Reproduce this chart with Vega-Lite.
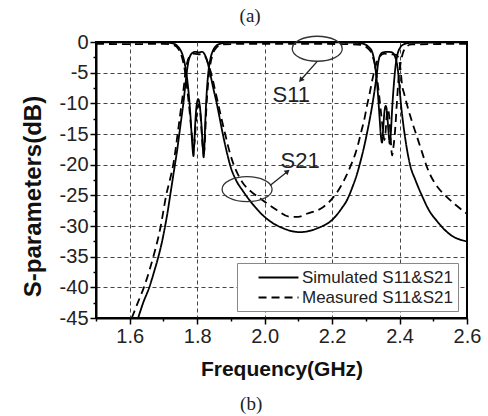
{
  "$schema": "https://vega.github.io/schema/vega-lite/v6.json",
  "width": 371,
  "height": 276,
  "autosize": {"type": "none"},
  "padding": {"left": 96, "top": 42, "right": 21, "bottom": 98},
  "background": "white",
  "config": {"view": {"stroke": "black", "strokeWidth": 2}, "font": "Liberation Sans"},
  "datasets": {
    "curves": [
      {"series": "sim21", "type": "Simulated S11&S21", "freq": 1.625, "db": -45},
      {"series": "sim21", "type": "Simulated S11&S21", "freq": 1.640, "db": -42.5},
      {"series": "sim21", "type": "Simulated S11&S21", "freq": 1.658, "db": -40},
      {"series": "sim21", "type": "Simulated S11&S21", "freq": 1.672, "db": -37.5},
      {"series": "sim21", "type": "Simulated S11&S21", "freq": 1.685, "db": -35},
      {"series": "sim21", "type": "Simulated S11&S21", "freq": 1.696, "db": -32.5},
      {"series": "sim21", "type": "Simulated S11&S21", "freq": 1.705, "db": -30},
      {"series": "sim21", "type": "Simulated S11&S21", "freq": 1.713, "db": -27.5},
      {"series": "sim21", "type": "Simulated S11&S21", "freq": 1.720, "db": -25},
      {"series": "sim21", "type": "Simulated S11&S21", "freq": 1.727, "db": -22.5},
      {"series": "sim21", "type": "Simulated S11&S21", "freq": 1.734, "db": -20},
      {"series": "sim21", "type": "Simulated S11&S21", "freq": 1.741, "db": -17.5},
      {"series": "sim21", "type": "Simulated S11&S21", "freq": 1.747, "db": -15},
      {"series": "sim21", "type": "Simulated S11&S21", "freq": 1.753, "db": -12.5},
      {"series": "sim21", "type": "Simulated S11&S21", "freq": 1.759, "db": -10},
      {"series": "sim21", "type": "Simulated S11&S21", "freq": 1.764, "db": -7.5},
      {"series": "sim21", "type": "Simulated S11&S21", "freq": 1.769, "db": -5},
      {"series": "sim21", "type": "Simulated S11&S21", "freq": 1.774, "db": -3.2},
      {"series": "sim21", "type": "Simulated S11&S21", "freq": 1.779, "db": -2.3},
      {"series": "sim21", "type": "Simulated S11&S21", "freq": 1.785, "db": -1.8},
      {"series": "sim21", "type": "Simulated S11&S21", "freq": 1.795, "db": -1.6},
      {"series": "sim21", "type": "Simulated S11&S21", "freq": 1.805, "db": -1.7},
      {"series": "sim21", "type": "Simulated S11&S21", "freq": 1.815, "db": -1.6},
      {"series": "sim21", "type": "Simulated S11&S21", "freq": 1.822, "db": -2.0},
      {"series": "sim21", "type": "Simulated S11&S21", "freq": 1.828, "db": -2.8},
      {"series": "sim21", "type": "Simulated S11&S21", "freq": 1.833, "db": -3.8},
      {"series": "sim21", "type": "Simulated S11&S21", "freq": 1.838, "db": -5},
      {"series": "sim21", "type": "Simulated S11&S21", "freq": 1.848, "db": -7.6},
      {"series": "sim21", "type": "Simulated S11&S21", "freq": 1.858, "db": -10},
      {"series": "sim21", "type": "Simulated S11&S21", "freq": 1.867, "db": -12.5},
      {"series": "sim21", "type": "Simulated S11&S21", "freq": 1.876, "db": -15},
      {"series": "sim21", "type": "Simulated S11&S21", "freq": 1.888, "db": -18},
      {"series": "sim21", "type": "Simulated S11&S21", "freq": 1.900, "db": -20.5},
      {"series": "sim21", "type": "Simulated S11&S21", "freq": 1.915, "db": -22.5},
      {"series": "sim21", "type": "Simulated S11&S21", "freq": 1.937, "db": -24.4},
      {"series": "sim21", "type": "Simulated S11&S21", "freq": 1.967, "db": -26.6},
      {"series": "sim21", "type": "Simulated S11&S21", "freq": 2.006, "db": -28.8},
      {"series": "sim21", "type": "Simulated S11&S21", "freq": 2.056, "db": -30.4},
      {"series": "sim21", "type": "Simulated S11&S21", "freq": 2.105, "db": -31.0},
      {"series": "sim21", "type": "Simulated S11&S21", "freq": 2.155, "db": -30.4},
      {"series": "sim21", "type": "Simulated S11&S21", "freq": 2.204, "db": -28.8},
      {"series": "sim21", "type": "Simulated S11&S21", "freq": 2.230, "db": -27.0},
      {"series": "sim21", "type": "Simulated S11&S21", "freq": 2.244, "db": -25.8},
      {"series": "sim21", "type": "Simulated S11&S21", "freq": 2.260, "db": -23.7},
      {"series": "sim21", "type": "Simulated S11&S21", "freq": 2.274, "db": -21.5},
      {"series": "sim21", "type": "Simulated S11&S21", "freq": 2.285, "db": -19.3},
      {"series": "sim21", "type": "Simulated S11&S21", "freq": 2.294, "db": -17.3},
      {"series": "sim21", "type": "Simulated S11&S21", "freq": 2.303, "db": -15},
      {"series": "sim21", "type": "Simulated S11&S21", "freq": 2.312, "db": -12.5},
      {"series": "sim21", "type": "Simulated S11&S21", "freq": 2.320, "db": -10},
      {"series": "sim21", "type": "Simulated S11&S21", "freq": 2.327, "db": -7.5},
      {"series": "sim21", "type": "Simulated S11&S21", "freq": 2.333, "db": -5},
      {"series": "sim21", "type": "Simulated S11&S21", "freq": 2.337, "db": -3.3},
      {"series": "sim21", "type": "Simulated S11&S21", "freq": 2.342, "db": -2.2},
      {"series": "sim21", "type": "Simulated S11&S21", "freq": 2.350, "db": -1.7},
      {"series": "sim21", "type": "Simulated S11&S21", "freq": 2.365, "db": -1.6},
      {"series": "sim21", "type": "Simulated S11&S21", "freq": 2.378, "db": -1.7},
      {"series": "sim21", "type": "Simulated S11&S21", "freq": 2.386, "db": -2.3},
      {"series": "sim21", "type": "Simulated S11&S21", "freq": 2.391, "db": -3.2},
      {"series": "sim21", "type": "Simulated S11&S21", "freq": 2.396, "db": -5},
      {"series": "sim21", "type": "Simulated S11&S21", "freq": 2.400, "db": -7.5},
      {"series": "sim21", "type": "Simulated S11&S21", "freq": 2.404, "db": -10},
      {"series": "sim21", "type": "Simulated S11&S21", "freq": 2.409, "db": -12.5},
      {"series": "sim21", "type": "Simulated S11&S21", "freq": 2.415, "db": -15},
      {"series": "sim21", "type": "Simulated S11&S21", "freq": 2.422, "db": -17.5},
      {"series": "sim21", "type": "Simulated S11&S21", "freq": 2.431, "db": -20},
      {"series": "sim21", "type": "Simulated S11&S21", "freq": 2.447, "db": -22.5},
      {"series": "sim21", "type": "Simulated S11&S21", "freq": 2.466, "db": -25},
      {"series": "sim21", "type": "Simulated S11&S21", "freq": 2.488, "db": -27.5},
      {"series": "sim21", "type": "Simulated S11&S21", "freq": 2.511, "db": -29.2},
      {"series": "sim21", "type": "Simulated S11&S21", "freq": 2.550, "db": -31.4},
      {"series": "sim21", "type": "Simulated S11&S21", "freq": 2.600, "db": -32.5},

      {"series": "sim11", "type": "Simulated S11&S21", "freq": 1.500, "db": -0.05},
      {"series": "sim11", "type": "Simulated S11&S21", "freq": 1.700, "db": -0.08},
      {"series": "sim11", "type": "Simulated S11&S21", "freq": 1.725, "db": -0.2},
      {"series": "sim11", "type": "Simulated S11&S21", "freq": 1.738, "db": -0.5},
      {"series": "sim11", "type": "Simulated S11&S21", "freq": 1.748, "db": -1.1},
      {"series": "sim11", "type": "Simulated S11&S21", "freq": 1.756, "db": -2.0},
      {"series": "sim11", "type": "Simulated S11&S21", "freq": 1.763, "db": -3.5},
      {"series": "sim11", "type": "Simulated S11&S21", "freq": 1.769, "db": -5.5},
      {"series": "sim11", "type": "Simulated S11&S21", "freq": 1.775, "db": -8.5},
      {"series": "sim11", "type": "Simulated S11&S21", "freq": 1.780, "db": -12},
      {"series": "sim11", "type": "Simulated S11&S21", "freq": 1.784, "db": -15.5},
      {"series": "sim11", "type": "Simulated S11&S21", "freq": 1.787, "db": -17.8},
      {"series": "sim11", "type": "Simulated S11&S21", "freq": 1.789, "db": -18.6},
      {"series": "sim11", "type": "Simulated S11&S21", "freq": 1.791, "db": -17},
      {"series": "sim11", "type": "Simulated S11&S21", "freq": 1.794, "db": -13.5},
      {"series": "sim11", "type": "Simulated S11&S21", "freq": 1.798, "db": -10.5},
      {"series": "sim11", "type": "Simulated S11&S21", "freq": 1.803, "db": -9.3},
      {"series": "sim11", "type": "Simulated S11&S21", "freq": 1.808, "db": -10.5},
      {"series": "sim11", "type": "Simulated S11&S21", "freq": 1.812, "db": -13},
      {"series": "sim11", "type": "Simulated S11&S21", "freq": 1.816, "db": -16.5},
      {"series": "sim11", "type": "Simulated S11&S21", "freq": 1.819, "db": -18.8},
      {"series": "sim11", "type": "Simulated S11&S21", "freq": 1.821, "db": -17.5},
      {"series": "sim11", "type": "Simulated S11&S21", "freq": 1.824, "db": -13},
      {"series": "sim11", "type": "Simulated S11&S21", "freq": 1.828, "db": -8.5},
      {"series": "sim11", "type": "Simulated S11&S21", "freq": 1.833, "db": -5},
      {"series": "sim11", "type": "Simulated S11&S21", "freq": 1.839, "db": -2.8},
      {"series": "sim11", "type": "Simulated S11&S21", "freq": 1.846, "db": -1.5},
      {"series": "sim11", "type": "Simulated S11&S21", "freq": 1.855, "db": -0.7},
      {"series": "sim11", "type": "Simulated S11&S21", "freq": 1.870, "db": -0.25},
      {"series": "sim11", "type": "Simulated S11&S21", "freq": 1.900, "db": -0.1},
      {"series": "sim11", "type": "Simulated S11&S21", "freq": 2.000, "db": -0.05},
      {"series": "sim11", "type": "Simulated S11&S21", "freq": 2.250, "db": -0.08},
      {"series": "sim11", "type": "Simulated S11&S21", "freq": 2.285, "db": -0.2},
      {"series": "sim11", "type": "Simulated S11&S21", "freq": 2.298, "db": -0.4},
      {"series": "sim11", "type": "Simulated S11&S21", "freq": 2.310, "db": -0.9},
      {"series": "sim11", "type": "Simulated S11&S21", "freq": 2.318, "db": -1.5},
      {"series": "sim11", "type": "Simulated S11&S21", "freq": 2.325, "db": -3},
      {"series": "sim11", "type": "Simulated S11&S21", "freq": 2.331, "db": -5.5},
      {"series": "sim11", "type": "Simulated S11&S21", "freq": 2.336, "db": -8.5},
      {"series": "sim11", "type": "Simulated S11&S21", "freq": 2.341, "db": -12.5},
      {"series": "sim11", "type": "Simulated S11&S21", "freq": 2.345, "db": -15.5},
      {"series": "sim11", "type": "Simulated S11&S21", "freq": 2.348, "db": -16.4},
      {"series": "sim11", "type": "Simulated S11&S21", "freq": 2.351, "db": -14.5},
      {"series": "sim11", "type": "Simulated S11&S21", "freq": 2.355, "db": -11.5},
      {"series": "sim11", "type": "Simulated S11&S21", "freq": 2.359, "db": -10.4},
      {"series": "sim11", "type": "Simulated S11&S21", "freq": 2.363, "db": -11.5},
      {"series": "sim11", "type": "Simulated S11&S21", "freq": 2.367, "db": -14.5},
      {"series": "sim11", "type": "Simulated S11&S21", "freq": 2.371, "db": -16.6},
      {"series": "sim11", "type": "Simulated S11&S21", "freq": 2.374, "db": -15},
      {"series": "sim11", "type": "Simulated S11&S21", "freq": 2.378, "db": -11},
      {"series": "sim11", "type": "Simulated S11&S21", "freq": 2.383, "db": -7},
      {"series": "sim11", "type": "Simulated S11&S21", "freq": 2.388, "db": -4},
      {"series": "sim11", "type": "Simulated S11&S21", "freq": 2.394, "db": -2},
      {"series": "sim11", "type": "Simulated S11&S21", "freq": 2.402, "db": -0.9},
      {"series": "sim11", "type": "Simulated S11&S21", "freq": 2.412, "db": -0.4},
      {"series": "sim11", "type": "Simulated S11&S21", "freq": 2.430, "db": -0.15},
      {"series": "sim11", "type": "Simulated S11&S21", "freq": 2.600, "db": -0.05},

      {"series": "meas21", "type": "Measured S11&S21", "freq": 1.606, "db": -45},
      {"series": "meas21", "type": "Measured S11&S21", "freq": 1.624, "db": -42.5},
      {"series": "meas21", "type": "Measured S11&S21", "freq": 1.642, "db": -40},
      {"series": "meas21", "type": "Measured S11&S21", "freq": 1.657, "db": -37.5},
      {"series": "meas21", "type": "Measured S11&S21", "freq": 1.670, "db": -35},
      {"series": "meas21", "type": "Measured S11&S21", "freq": 1.682, "db": -32.5},
      {"series": "meas21", "type": "Measured S11&S21", "freq": 1.692, "db": -30},
      {"series": "meas21", "type": "Measured S11&S21", "freq": 1.700, "db": -27.5},
      {"series": "meas21", "type": "Measured S11&S21", "freq": 1.708, "db": -25},
      {"series": "meas21", "type": "Measured S11&S21", "freq": 1.719, "db": -22.5},
      {"series": "meas21", "type": "Measured S11&S21", "freq": 1.729, "db": -20},
      {"series": "meas21", "type": "Measured S11&S21", "freq": 1.736, "db": -17.5},
      {"series": "meas21", "type": "Measured S11&S21", "freq": 1.742, "db": -15},
      {"series": "meas21", "type": "Measured S11&S21", "freq": 1.748, "db": -12.5},
      {"series": "meas21", "type": "Measured S11&S21", "freq": 1.754, "db": -10},
      {"series": "meas21", "type": "Measured S11&S21", "freq": 1.760, "db": -7.5},
      {"series": "meas21", "type": "Measured S11&S21", "freq": 1.765, "db": -5},
      {"series": "meas21", "type": "Measured S11&S21", "freq": 1.771, "db": -3.2},
      {"series": "meas21", "type": "Measured S11&S21", "freq": 1.778, "db": -2.3},
      {"series": "meas21", "type": "Measured S11&S21", "freq": 1.790, "db": -1.9},
      {"series": "meas21", "type": "Measured S11&S21", "freq": 1.805, "db": -2.0},
      {"series": "meas21", "type": "Measured S11&S21", "freq": 1.818, "db": -2.1},
      {"series": "meas21", "type": "Measured S11&S21", "freq": 1.827, "db": -2.7},
      {"series": "meas21", "type": "Measured S11&S21", "freq": 1.834, "db": -3.8},
      {"series": "meas21", "type": "Measured S11&S21", "freq": 1.842, "db": -5.2},
      {"series": "meas21", "type": "Measured S11&S21", "freq": 1.852, "db": -7.6},
      {"series": "meas21", "type": "Measured S11&S21", "freq": 1.862, "db": -10},
      {"series": "meas21", "type": "Measured S11&S21", "freq": 1.872, "db": -12.5},
      {"series": "meas21", "type": "Measured S11&S21", "freq": 1.883, "db": -15},
      {"series": "meas21", "type": "Measured S11&S21", "freq": 1.895, "db": -17.7},
      {"series": "meas21", "type": "Measured S11&S21", "freq": 1.905, "db": -19.5},
      {"series": "meas21", "type": "Measured S11&S21", "freq": 1.920, "db": -21.5},
      {"series": "meas21", "type": "Measured S11&S21", "freq": 1.937, "db": -23.1},
      {"series": "meas21", "type": "Measured S11&S21", "freq": 1.960, "db": -24.4},
      {"series": "meas21", "type": "Measured S11&S21", "freq": 1.987, "db": -25.5},
      {"series": "meas21", "type": "Measured S11&S21", "freq": 2.036, "db": -27.4},
      {"series": "meas21", "type": "Measured S11&S21", "freq": 2.076, "db": -28.5},
      {"series": "meas21", "type": "Measured S11&S21", "freq": 2.100, "db": -28.5},
      {"series": "meas21", "type": "Measured S11&S21", "freq": 2.125, "db": -28.0},
      {"series": "meas21", "type": "Measured S11&S21", "freq": 2.174, "db": -26.9},
      {"series": "meas21", "type": "Measured S11&S21", "freq": 2.204, "db": -25.3},
      {"series": "meas21", "type": "Measured S11&S21", "freq": 2.225, "db": -23.6},
      {"series": "meas21", "type": "Measured S11&S21", "freq": 2.244, "db": -21.6},
      {"series": "meas21", "type": "Measured S11&S21", "freq": 2.258, "db": -19.8},
      {"series": "meas21", "type": "Measured S11&S21", "freq": 2.269, "db": -18.2},
      {"series": "meas21", "type": "Measured S11&S21", "freq": 2.278, "db": -16.5},
      {"series": "meas21", "type": "Measured S11&S21", "freq": 2.287, "db": -14.5},
      {"series": "meas21", "type": "Measured S11&S21", "freq": 2.296, "db": -12.5},
      {"series": "meas21", "type": "Measured S11&S21", "freq": 2.303, "db": -10.5},
      {"series": "meas21", "type": "Measured S11&S21", "freq": 2.311, "db": -8.5},
      {"series": "meas21", "type": "Measured S11&S21", "freq": 2.318, "db": -6.5},
      {"series": "meas21", "type": "Measured S11&S21", "freq": 2.325, "db": -4.8},
      {"series": "meas21", "type": "Measured S11&S21", "freq": 2.333, "db": -3.2},
      {"series": "meas21", "type": "Measured S11&S21", "freq": 2.342, "db": -2.3},
      {"series": "meas21", "type": "Measured S11&S21", "freq": 2.355, "db": -1.9},
      {"series": "meas21", "type": "Measured S11&S21", "freq": 2.375, "db": -2.0},
      {"series": "meas21", "type": "Measured S11&S21", "freq": 2.390, "db": -2.1},
      {"series": "meas21", "type": "Measured S11&S21", "freq": 2.397, "db": -2.6},
      {"series": "meas21", "type": "Measured S11&S21", "freq": 2.403, "db": -4.5},
      {"series": "meas21", "type": "Measured S11&S21", "freq": 2.407, "db": -6.8},
      {"series": "meas21", "type": "Measured S11&S21", "freq": 2.414, "db": -8.5},
      {"series": "meas21", "type": "Measured S11&S21", "freq": 2.422, "db": -10.2},
      {"series": "meas21", "type": "Measured S11&S21", "freq": 2.437, "db": -13},
      {"series": "meas21", "type": "Measured S11&S21", "freq": 2.452, "db": -15.5},
      {"series": "meas21", "type": "Measured S11&S21", "freq": 2.468, "db": -18.2},
      {"series": "meas21", "type": "Measured S11&S21", "freq": 2.482, "db": -20.5},
      {"series": "meas21", "type": "Measured S11&S21", "freq": 2.497, "db": -22.3},
      {"series": "meas21", "type": "Measured S11&S21", "freq": 2.515, "db": -23.8},
      {"series": "meas21", "type": "Measured S11&S21", "freq": 2.535, "db": -25},
      {"series": "meas21", "type": "Measured S11&S21", "freq": 2.565, "db": -26.5},
      {"series": "meas21", "type": "Measured S11&S21", "freq": 2.600, "db": -28.0},

      {"series": "meas11", "type": "Measured S11&S21", "freq": 1.500, "db": -0.3},
      {"series": "meas11", "type": "Measured S11&S21", "freq": 1.600, "db": -0.35},
      {"series": "meas11", "type": "Measured S11&S21", "freq": 1.700, "db": -0.3},
      {"series": "meas11", "type": "Measured S11&S21", "freq": 1.730, "db": -0.5},
      {"series": "meas11", "type": "Measured S11&S21", "freq": 1.745, "db": -1.2},
      {"series": "meas11", "type": "Measured S11&S21", "freq": 1.755, "db": -2.5},
      {"series": "meas11", "type": "Measured S11&S21", "freq": 1.763, "db": -4.5},
      {"series": "meas11", "type": "Measured S11&S21", "freq": 1.770, "db": -7.5},
      {"series": "meas11", "type": "Measured S11&S21", "freq": 1.777, "db": -11},
      {"series": "meas11", "type": "Measured S11&S21", "freq": 1.783, "db": -14.5},
      {"series": "meas11", "type": "Measured S11&S21", "freq": 1.788, "db": -16.5},
      {"series": "meas11", "type": "Measured S11&S21", "freq": 1.791, "db": -17.0},
      {"series": "meas11", "type": "Measured S11&S21", "freq": 1.794, "db": -15},
      {"series": "meas11", "type": "Measured S11&S21", "freq": 1.798, "db": -12},
      {"series": "meas11", "type": "Measured S11&S21", "freq": 1.804, "db": -10.2},
      {"series": "meas11", "type": "Measured S11&S21", "freq": 1.809, "db": -11.5},
      {"series": "meas11", "type": "Measured S11&S21", "freq": 1.813, "db": -14.5},
      {"series": "meas11", "type": "Measured S11&S21", "freq": 1.817, "db": -17.5},
      {"series": "meas11", "type": "Measured S11&S21", "freq": 1.820, "db": -18.2},
      {"series": "meas11", "type": "Measured S11&S21", "freq": 1.823, "db": -16},
      {"series": "meas11", "type": "Measured S11&S21", "freq": 1.827, "db": -11},
      {"series": "meas11", "type": "Measured S11&S21", "freq": 1.832, "db": -7},
      {"series": "meas11", "type": "Measured S11&S21", "freq": 1.838, "db": -4},
      {"series": "meas11", "type": "Measured S11&S21", "freq": 1.846, "db": -2},
      {"series": "meas11", "type": "Measured S11&S21", "freq": 1.857, "db": -0.9},
      {"series": "meas11", "type": "Measured S11&S21", "freq": 1.875, "db": -0.4},
      {"series": "meas11", "type": "Measured S11&S21", "freq": 1.950, "db": -0.3},
      {"series": "meas11", "type": "Measured S11&S21", "freq": 2.100, "db": -0.3},
      {"series": "meas11", "type": "Measured S11&S21", "freq": 2.250, "db": -0.35},
      {"series": "meas11", "type": "Measured S11&S21", "freq": 2.290, "db": -0.5},
      {"series": "meas11", "type": "Measured S11&S21", "freq": 2.305, "db": -1.0},
      {"series": "meas11", "type": "Measured S11&S21", "freq": 2.318, "db": -2.0},
      {"series": "meas11", "type": "Measured S11&S21", "freq": 2.328, "db": -4},
      {"series": "meas11", "type": "Measured S11&S21", "freq": 2.337, "db": -7.5},
      {"series": "meas11", "type": "Measured S11&S21", "freq": 2.344, "db": -11},
      {"series": "meas11", "type": "Measured S11&S21", "freq": 2.350, "db": -14},
      {"series": "meas11", "type": "Measured S11&S21", "freq": 2.355, "db": -16},
      {"series": "meas11", "type": "Measured S11&S21", "freq": 2.358, "db": -15},
      {"series": "meas11", "type": "Measured S11&S21", "freq": 2.362, "db": -12},
      {"series": "meas11", "type": "Measured S11&S21", "freq": 2.366, "db": -11},
      {"series": "meas11", "type": "Measured S11&S21", "freq": 2.370, "db": -12.5},
      {"series": "meas11", "type": "Measured S11&S21", "freq": 2.374, "db": -16},
      {"series": "meas11", "type": "Measured S11&S21", "freq": 2.378, "db": -18.5},
      {"series": "meas11", "type": "Measured S11&S21", "freq": 2.381, "db": -17.5},
      {"series": "meas11", "type": "Measured S11&S21", "freq": 2.386, "db": -15},
      {"series": "meas11", "type": "Measured S11&S21", "freq": 2.392, "db": -10},
      {"series": "meas11", "type": "Measured S11&S21", "freq": 2.397, "db": -6},
      {"series": "meas11", "type": "Measured S11&S21", "freq": 2.403, "db": -3.5},
      {"series": "meas11", "type": "Measured S11&S21", "freq": 2.410, "db": -1.8},
      {"series": "meas11", "type": "Measured S11&S21", "freq": 2.420, "db": -0.8},
      {"series": "meas11", "type": "Measured S11&S21", "freq": 2.435, "db": -0.4},
      {"series": "meas11", "type": "Measured S11&S21", "freq": 2.600, "db": -0.3}
    ],
    "ellipses": [
      {"name": "S11", "freq": 2.156, "db": -1.1},
      {"name": "S21", "freq": 1.948, "db": -24.0}
    ],
    "arrows": [
      {"name": "S11", "freq": 2.156, "db": -3.15, "freq2": 2.107, "db2": -6.2},
      {"name": "S21", "freq": 2.016, "db": -23.4, "freq2": 2.068, "db2": -21.1}
    ],
    "labels": [
      {"name": "S11", "freq": 2.079, "db": -8.7},
      {"name": "S21", "freq": 2.105, "db": -19.45}
    ],
    "caption": [
      {"name": "(a)", "freq": 1.957, "db": 4.2},
      {"name": "(b)", "freq": 1.96, "db": -59.1}
    ]
  },
  "layer": [
    {
      "data": {"name": "curves"},
      "mark": {"type": "line", "clip": true, "color": "black", "strokeWidth": 1.8, "interpolate": "monotone"},
      "encoding": {
        "x": {
          "field": "freq", "type": "quantitative",
          "scale": {"domain": [1.5, 2.6], "nice": false, "zero": false},
          "axis": {
            "title": "Frequency(GHz)",
            "values": [1.5, 1.6, 1.7, 1.8, 1.9, 2.0, 2.1, 2.2, 2.3, 2.4, 2.5, 2.6],
            "tickCount": 100,
            "labelOverlap": false,
            "labelExpr": "round(datum.value*10) % 2 == 0 ? format(datum.value, '.1f') : ''",
            "tickSize": {"condition": {"test": "round(datum.value*10) % 2 == 0", "value": 6}, "value": 3},
            "gridOpacity": {"condition": {"test": "round(datum.value*10) % 2 == 0 && datum.value < 2.55", "value": 1}, "value": 0},
            "grid": true, "gridDash": [4, 3], "gridColor": "#444", "gridWidth": 1,
            "domainColor": "black", "domainWidth": 2, "tickColor": "black", "tickWidth": 1.5,
            "labelFontSize": 20, "labelColor": "#222", "labelPadding": 2, "labelFlush": false,
            "titleFontSize": 21, "titleFontWeight": "bold", "titleColor": "#111",
            "titleY": 51, "titleBaseline": "middle"
          }
        },
        "y": {
          "field": "db", "type": "quantitative",
          "scale": {"domain": [-45, 0], "nice": false, "zero": false},
          "axis": {
            "title": "S-parameters(dB)",
            "values": [-45, -42.5, -40, -37.5, -35, -32.5, -30, -27.5, -25, -22.5, -20, -17.5, -15, -12.5, -10, -7.5, -5, -2.5, 0],
            "tickCount": 100,
            "labelOverlap": false,
            "labelExpr": "datum.value % 5 == 0 ? '' + datum.value : ''",
            "tickSize": {"condition": {"test": "datum.value % 5 == 0", "value": 6}, "value": 3},
            "gridOpacity": {"condition": {"test": "datum.value % 5 == 0 && datum.value > -44 && datum.value < -1", "value": 1}, "value": 0},
            "grid": true, "gridDash": [4, 3], "gridColor": "#444", "gridWidth": 1,
            "domainColor": "black", "domainWidth": 2, "tickColor": "black", "tickWidth": 1.5,
            "labelFontSize": 20, "labelColor": "#222", "labelPadding": 2, "labelFlush": false,
            "titleFontSize": 24, "titleFontWeight": "bold", "titleColor": "#111",
            "titleX": -63, "titleY": 154, "titleAlign": "center", "titleBaseline": "middle"
          }
        },
        "detail": {"field": "series", "type": "nominal"},
        "strokeDash": {
          "field": "type", "type": "nominal",
          "scale": {"domain": ["Simulated S11&S21", "Measured S11&S21"], "range": [[1, 0], [8, 5]]},
          "legend": {
            "title": null, "orient": "none", "legendX": 141, "legendY": 221,
            "symbolType": "M-2.35,0L2.35,0", "symbolSize": 289, "symbolStrokeWidth": 1.8, "symbolStrokeColor": "black",
            "labelFontSize": 17, "labelColor": "#222", "labelFont": "Liberation Sans",
            "strokeColor": "#888", "fillColor": "white", "padding": 5, "symbolOffset": 27, "labelOffset": 14, "rowPadding": 2
          }
        }
      }
    },
    {
      "data": {"name": "ellipses"},
      "mark": {"type": "point", "shape": "M-1,0 A1,0.5 0 1,0 1,0 A1,0.5 0 1,0 -1,0 Z", "size": 2500, "filled": false, "stroke": "#333", "strokeWidth": 1.3, "opacity": 1},
      "encoding": {
        "x": {"field": "freq", "type": "quantitative"},
        "y": {"field": "db", "type": "quantitative"}
      }
    },
    {
      "data": {"name": "arrows"},
      "mark": {"type": "rule", "color": "#222", "strokeWidth": 1.3},
      "encoding": {
        "x": {"field": "freq", "type": "quantitative"},
        "y": {"field": "db", "type": "quantitative"},
        "x2": {"field": "freq2"},
        "y2": {"field": "db2"}
      }
    },
    {
      "data": {"name": "arrows"},
      "transform": [{"filter": "datum.name == 'S11'"}],
      "mark": {"type": "point", "shape": "triangle-up", "size": 35, "filled": true, "color": "#222", "angle": 220, "opacity": 1},
      "encoding": {
        "x": {"field": "freq2", "type": "quantitative"},
        "y": {"field": "db2", "type": "quantitative"}
      }
    },
    {
      "data": {"name": "arrows"},
      "transform": [{"filter": "datum.name == 'S21'"}],
      "mark": {"type": "point", "shape": "triangle-up", "size": 35, "filled": true, "color": "#222", "angle": 50, "opacity": 1},
      "encoding": {
        "x": {"field": "freq2", "type": "quantitative"},
        "y": {"field": "db2", "type": "quantitative"}
      }
    },
    {
      "data": {"name": "labels"},
      "mark": {"type": "text", "fontSize": 22, "font": "Liberation Sans", "color": "#222", "align": "center", "baseline": "middle"},
      "encoding": {
        "x": {"field": "freq", "type": "quantitative"},
        "y": {"field": "db", "type": "quantitative"},
        "text": {"field": "name"}
      }
    },
    {
      "data": {"name": "caption"},
      "mark": {"type": "text", "fontSize": 19, "font": "Liberation Serif", "color": "#222", "align": "center", "baseline": "middle", "clip": false},
      "encoding": {
        "x": {"field": "freq", "type": "quantitative"},
        "y": {"field": "db", "type": "quantitative"},
        "text": {"field": "name"}
      }
    }
  ]
}
